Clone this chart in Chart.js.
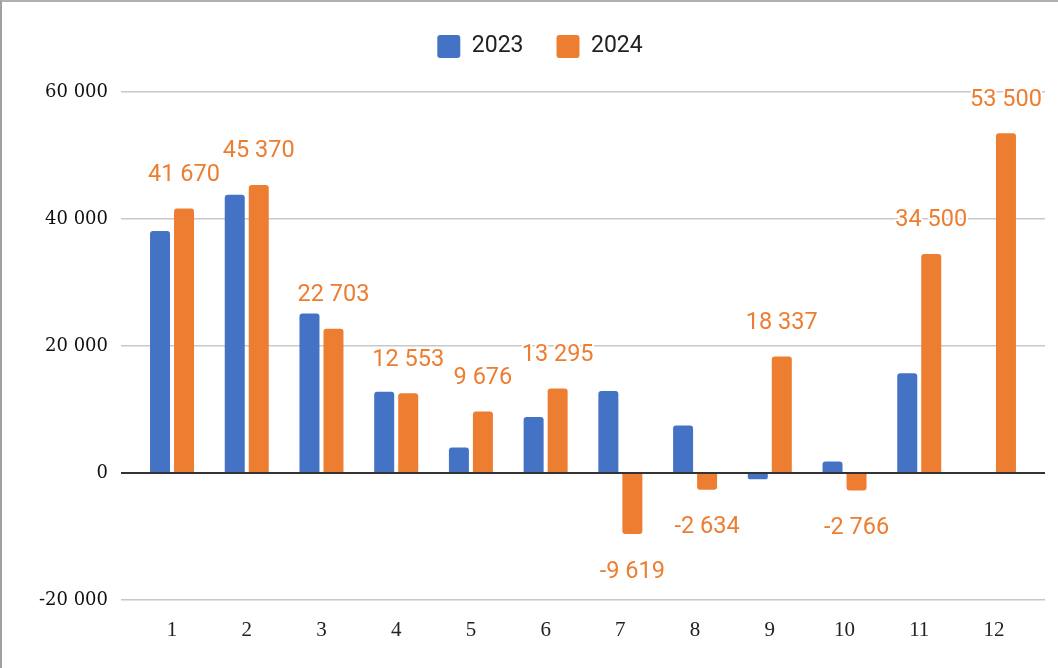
<!DOCTYPE html>
<html>
<head>
<meta charset="utf-8">
<script src="https://cdn.jsdelivr.net/npm/chart.js@4/dist/chart.umd.min.js"></script>
<style>
  html, body { margin: 0; padding: 0; background: #fff; }
  #wrap { width: 1056px; height: 666px; border-left: 2px solid #a0a0a0; border-top: 2px solid #b0b0b0; }
  canvas { display: block; }
</style>
</head>
<body>
<div id="wrap"><canvas id="chart" width="1056" height="666"></canvas></div>
<script>
// months on the x axis
const months = [1, 2, 3, 4, 5, 6, 7, 8, 9, 10, 11, 12];
// values (2023 has no bar for month 12)
const values2023 = [38100, 43800, 25100, 12800, 4000, 8800, 12900, 7500, -1000, 1800, 15700, null];
const values2024 = [41670, 45370, 22703, 12553, 9676, 13295, -9619, -2634, 18337, -2766, 34500, 53500];
const yTicks = [-20000, 0, 20000, 40000, 60000];

const BLUE = '#4472C4';
const ORANGE = '#ED7D31';

function fmt(v) {
	return String(v).replace(/\B(?=(\d{3})+(?!\d))/g, ' ');
}

// draws the orange numbers above / below the 2024 bars
const valueLabels = {
	id: 'valueLabels',
	afterDatasetsDraw(chart) {
		const ctx = chart.ctx;
		const meta = chart.getDatasetMeta(1);
		ctx.save();
		ctx.font = '23.5px Roboto';
		ctx.textAlign = 'center';
		ctx.textBaseline = 'alphabetic';
		ctx.lineJoin = 'round';
		ctx.lineWidth = 4;
		ctx.strokeStyle = '#fff';
		ctx.fillStyle = ORANGE;
		meta.data.forEach((bar, i) => {
			let v = values2024[i];
			if (v === null) return;
			let y = v >= 0 ? bar.y - 27.5 : bar.y + 43.5;
			ctx.strokeText(fmt(v), bar.x, y);
			ctx.fillText(fmt(v), bar.x, y);
		});
		ctx.restore();
	}
};

let ctx = document.querySelector('#chart').getContext('2d');
new Chart(ctx, {
	type: 'bar',
	data: {
		labels: months,
		datasets: [
			{ label: '2023', data: values2023, backgroundColor: BLUE, borderWidth: 0, borderRadius: 3 },
			{ label: '2024', data: values2024, backgroundColor: ORANGE, borderWidth: 0, borderRadius: 3 }
		]
	},
	options: {
		responsive: false,
		animation: false,
		layout: { padding: { left: 33, right: 13, top: 0, bottom: 0 } },
		datasets: { bar: { categoryPercentage: 0.6426, barPercentage: 0.833 } },
		plugins: {
			tooltip: { enabled: false },
			legend: {
				position: 'top',
				labels: {
					boxWidth: 23,
					boxHeight: 23,
					padding: 33,
					useBorderRadius: true,
					borderRadius: 3,
					color: '#222',
					font: { family: 'Roboto', size: 23 }
				}
			},
			// empty title used as a gap between legend and plot
			title: {
				display: true,
				text: '',
				weight: 500,
				padding: 0,
				font: { size: 20, lineHeight: 1.2 }
			}
		},
		scales: {
			x: {
				type: 'linear',
				offset: false,
				min: 0.317,
				max: 12.683,
				afterBuildTicks: s => { s.ticks = months.map(m => ({ value: m })); },
				afterFit: s => { s.height = 68; },
				grid: { display: false },
				border: { display: false },
				ticks: {
					padding: 10,
					color: '#222',
					font: { family: 'Liberation Serif', size: 21 }
				}
			},
			y: {
				min: -20000,
				max: 60000,
				afterBuildTicks: s => { s.ticks = yTicks.map(v => ({ value: v })); },
				afterFit: s => { s.width = 86; },
				border: { display: false },
				grid: {
					drawTicks: false,
					color: c => c.tick && c.tick.value === 0 ? '#333' : '#c8c8c8',
					lineWidth: c => c.tick && c.tick.value === 0 ? 2 : 1.5
				},
				ticks: {
					padding: 13,
					color: '#111',
					font: { family: 'DejaVu Serif', size: 18 },
					callback: v => fmt(v)
				}
			}
		}
	},
	plugins: [valueLabels]
});
</script>
</body>
</html>
